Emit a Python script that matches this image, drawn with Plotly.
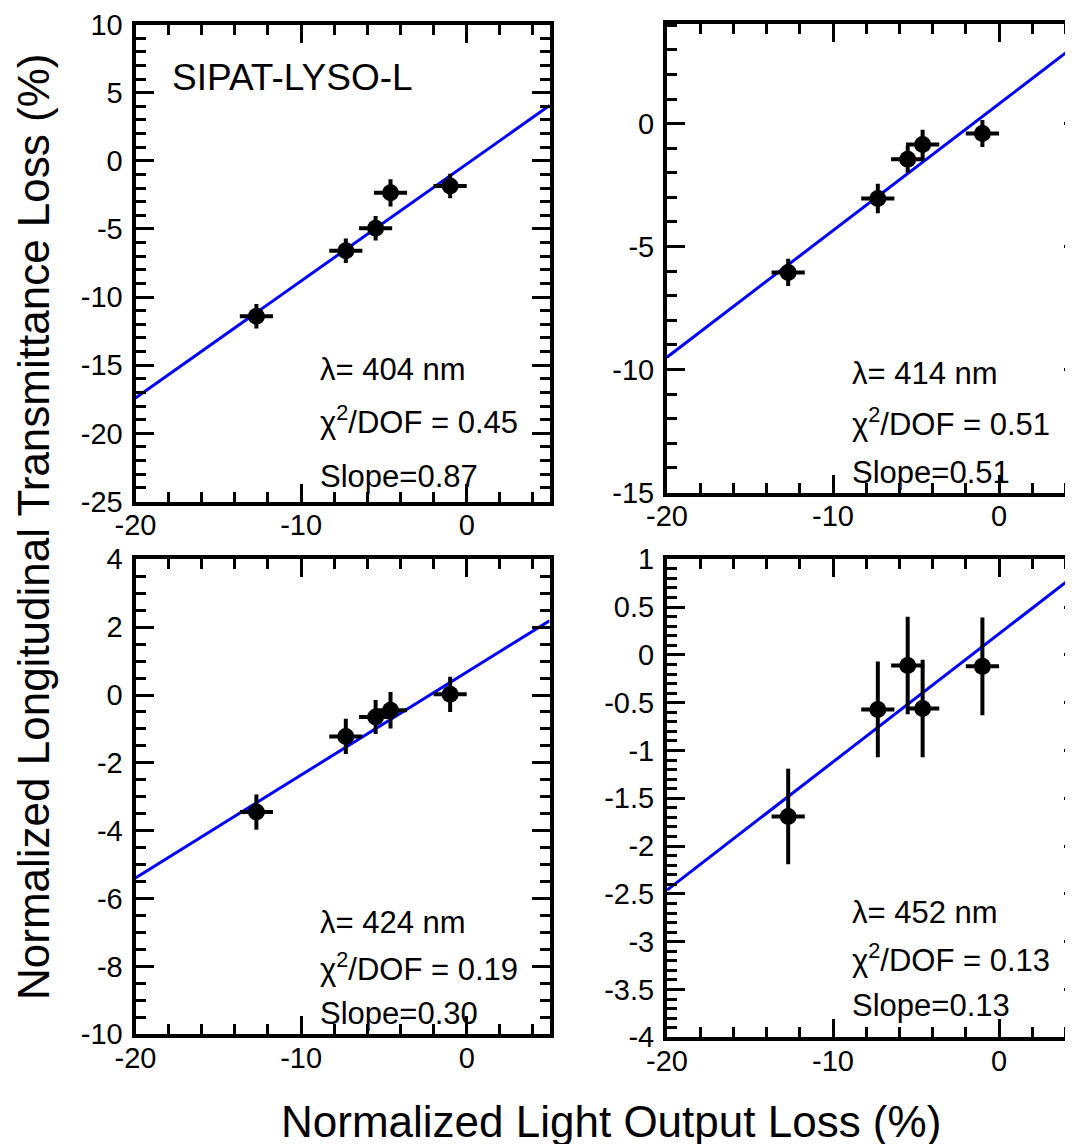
import plotly.graph_objects as go

# ---------------- data ----------------
light_output_loss = [-12.7, -7.3, -5.5, -4.6, -1.0]
light_output_err = [1.0, 1.0, 1.0, 1.0, 1.0]

ltl_404 = [-11.4, -6.6, -4.95, -2.35, -1.85]
ltl_404_err = [0.9, 0.9, 0.9, 1.0, 0.9]
ltl_414 = [-6.05, -3.05, -1.45, -0.85, -0.4]
ltl_414_err = [0.55, 0.6, 0.55, 0.6, 0.55]
ltl_424 = [-3.45, -1.22, -0.65, -0.45, 0.02]
ltl_424_err = [0.52, 0.52, 0.5, 0.54, 0.52]
ltl_452 = [-1.69, -0.57, -0.11, -0.56, -0.12]
ltl_452_err = [0.5, 0.5, 0.51, 0.51, 0.51]

fit_x = [-20, 5]
fit_404 = [-17.4, 4.05]
fit_414 = [-9.5, 3.38]
fit_424 = [-5.39, 2.19]
fit_452 = [-2.46, 0.89]

wavelength_labels = ["λ= 404 nm", "λ= 414 nm", "λ= 424 nm", "λ= 452 nm"]
chi2_labels = ["χ<sup>2</sup>/DOF = 0.45", "χ<sup>2</sup>/DOF = 0.51",
               "χ<sup>2</sup>/DOF = 0.19", "χ<sup>2</sup>/DOF = 0.13"]
slope_labels = ["Slope=0.87", "Slope=0.51", "Slope=0.30", "Slope=0.13"]
sample_label = "SIPAT-LYSO-L"

x_tickvals = [-20, -10, 0]
x_ticktext = ["-20", "-10", "0"]
y1_tickvals = [-25, -20, -15, -10, -5, 0, 5, 10]
y1_ticktext = ["-25", "-20", "-15", "-10", "-5", "0", "5", "10"]
y2_tickvals = [-15, -10, -5, 0]
y2_ticktext = ["-15", "-10", "-5", "0"]
y3_tickvals = [-10, -8, -6, -4, -2, 0, 2, 4]
y3_ticktext = ["-10", "-8", "-6", "-4", "-2", "0", "2", "4"]
y4_tickvals = [-4, -3.5, -3, -2.5, -2, -1.5, -1, -0.5, 0, 0.5, 1]
y4_ticktext = ["-4", "-3.5", "-3", "-2.5", "-2", "-1.5", "-1", "-0.5", "0", "0.5", "1"]

# ---------------- layout helpers ----------------
W, H = 1074, 1144
OFF = 8  # default page body margin
FONT = "Liberation Sans, Arial, sans-serif"


def fx(p):
    return (p - OFF) / W


def fy(p):
    return 1 - (p - OFF) / H


panels = [
    dict(xpx=(135.5, 549.5), ypx=(24.5, 501.5), xr=[-20, 5], yr=[-25, 10],
         yt=y1_tickvals, ytt=y1_ticktext, ym=1, y=ltl_404, ye=ltl_404_err, fit=fit_404),
    dict(xpx=(667, 1082), ypx=(24, 492.5), xr=[-20, 5], yr=[-15, 4.05],
         yt=y2_tickvals, ytt=y2_ticktext, ym=1, y=ltl_414, ye=ltl_414_err, fit=fit_414),
    dict(xpx=(135.5, 549.5), ypx=(559.3, 1034.3), xr=[-20, 5], yr=[-10, 4],
         yt=y3_tickvals, ytt=y3_ticktext, ym=0.5, y=ltl_424, ye=ltl_424_err, fit=fit_424),
    dict(xpx=(667, 1082), ypx=(559.3, 1037.3), xr=[-20, 5], yr=[-4, 1],
         yt=y4_tickvals, ytt=y4_ticktext, ym=0.1, y=ltl_452, ye=ltl_452_err, fit=fit_452),
]

fig = go.Figure()
layout = dict(
    width=W, height=H, margin=dict(l=0, r=0, t=0, b=0, autoexpand=False),
    paper_bgcolor="white", plot_bgcolor="white", showlegend=False,
    font=dict(family=FONT, color="black"),
)

common_axis = dict(
    showline=True, linewidth=4, linecolor="black", mirror="ticks",
    ticks="inside", ticklen=18, tickwidth=3, tickcolor="black",
    showgrid=False, zeroline=False, tickmode="array", automargin=False,
    tickfont=dict(family=FONT, size=29, color="black"),
)

for i, p in enumerate(panels):
    n = i + 1
    xa = "x" if n == 1 else f"x{n}"
    ya = "y" if n == 1 else f"y{n}"
    layout["xaxis" if n == 1 else f"xaxis{n}"] = dict(
        common_axis, domain=[max(0, fx(p["xpx"][0])), min(1, fx(p["xpx"][1]))],
        range=p["xr"], anchor=ya, tickvals=x_tickvals, ticktext=x_ticktext,
        ticklabelstandoff=-5,
        minor=dict(ticks="inside", ticklen=10, tickwidth=3, tickcolor="black",
                   tick0=-20, dtick=2, showgrid=False),
    )
    layout["yaxis" if n == 1 else f"yaxis{n}"] = dict(
        common_axis, domain=[fy(p["ypx"][1]), fy(p["ypx"][0])], range=p["yr"],
        anchor=xa, tickvals=p["yt"], ticktext=p["ytt"], ticklabelstandoff=3,
        minor=dict(ticks="inside", ticklen=10, tickwidth=3, tickcolor="black",
                   tick0=p["yr"][0], dtick=p["ym"], showgrid=False),
    )
    fig.add_trace(go.Scatter(
        x=fit_x, y=p["fit"], mode="lines", xaxis=xa, yaxis=ya,
        line=dict(color="#0000FF", width=3), hoverinfo="skip",
    ))
    fig.add_trace(go.Scatter(
        x=light_output_loss, y=p["y"], mode="markers", xaxis=xa, yaxis=ya,
        marker=dict(color="black", size=17),
        error_x=dict(type="data", array=light_output_err, color="black", thickness=4, width=0),
        error_y=dict(type="data", array=p["ye"], color="black", thickness=4, width=0),
    ))

annotations = []
text_pos = [
    (318, [369, 420, 476]),
    (850, [373, 422, 472]),
    (318, [922, 967, 1013]),
    (850, [912, 958, 1005]),
]
for i, (lx, ys) in enumerate(text_pos):
    for txt, yy in zip([wavelength_labels[i], chi2_labels[i], slope_labels[i]], ys):
        annotations.append(dict(
            text=txt, xref="paper", yref="paper", x=fx(lx), y=fy(yy),
            xanchor="left", yanchor="middle", showarrow=False,
            font=dict(family=FONT, size=31, color="black"),
        ))

annotations.append(dict(
    text=sample_label, xref="paper", yref="paper", x=fx(170), y=fy(78),
    xanchor="left", yanchor="middle", showarrow=False,
    font=dict(family=FONT, size=37, color="black"),
))
annotations.append(dict(
    text="Normalized Longitudinal Transmittance Loss (%)", xref="paper", yref="paper",
    x=fx(33), y=fy(527), xanchor="center", yanchor="middle", textangle=-90,
    showarrow=False, font=dict(family=FONT, size=44, color="black"),
))
annotations.append(dict(
    text="Normalized Light Output Loss (%)", xref="paper", yref="paper",
    x=fx(611), y=fy(1121), xanchor="center", yanchor="middle",
    showarrow=False, font=dict(family=FONT, size=44, color="black"),
))
layout["annotations"] = annotations

fig.update_layout(**layout)
fig.write_html("out.html")
